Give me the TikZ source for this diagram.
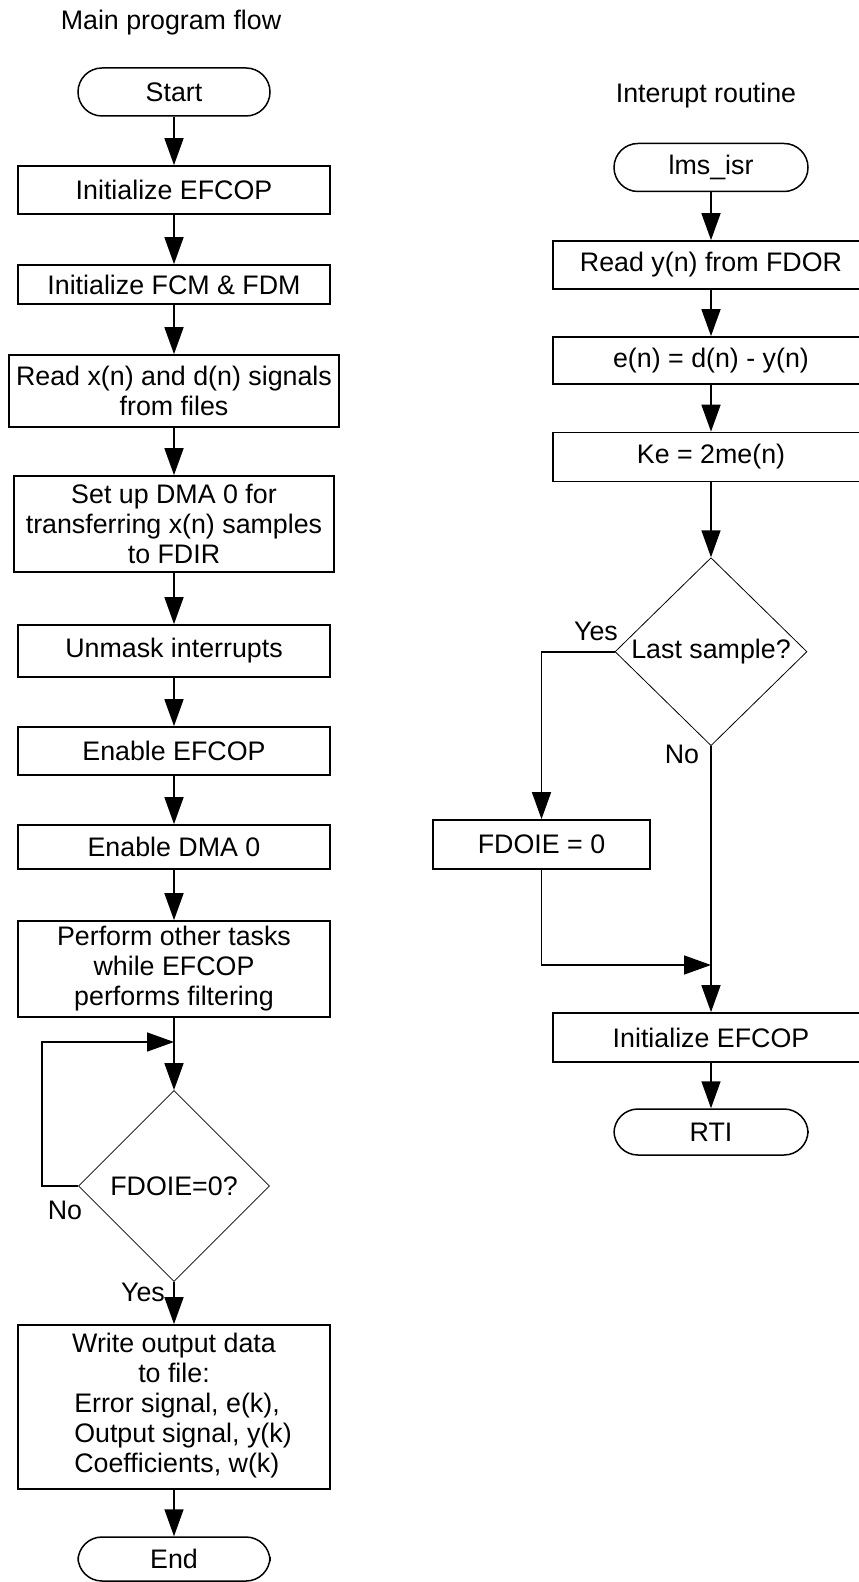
\documentclass[tikz,border=0pt]{standalone}
\usepackage{fontspec}
\setmainfont{Liberation Sans}
\usetikzlibrary{arrows.meta,shapes.geometric}

\begin{document}
\begin{tikzpicture}[x=0.5pt, y=-0.5pt,
		every node/.style={font=\fontsize{13.4}{15}\selectfont},
		procbox/.style={draw, line width=0.85pt, align=center, inner sep=0pt, minimum width=156pt, minimum height=24pt},
		termbox/.style={draw, line width=0.75pt, rounded corners=12pt, inner sep=0pt, minimum width=96pt, minimum height=24pt},
		decbox/.style={draw, diamond, aspect=1, line width=0.4pt, inner sep=0pt, minimum width=95.5pt, minimum height=95.5pt},
		flow/.style={line width=0.8pt, -{Triangle[length=13.5pt,width=9.5pt]}}]
			%%%%% START %%%%%
			
			\useasboundingbox (0, 0) rectangle (858, 1582);
			
			\node (title1) at (171, 22.5) {Main program flow};
			\node (title2) at (706, 96) {Interupt routine};
			
			% main program flow
			\node[termbox] (start) at (174, 92) {Start};
			\node[procbox] (init) at (174, 190) {Initialize EFCOP};
			\node[procbox, minimum height=19.5pt] (fcm) at (174, 284.5) {Initialize FCM \& FDM};
			\node[procbox, minimum width=165pt, minimum height=36pt] (readx) at (174, 391) {Read x(n) and d(n) signals\\from files};
			\node[procbox, minimum width=160pt, minimum height=48pt] (setdma) at (174, 524) {Set up DMA 0 for\\transferring x(n) samples\\to FDIR};
			\node[procbox, minimum height=26pt] (unmask) at (174, 651) {Unmask interrupts};
			\node[procbox] (enefcop) at (174, 751) {Enable EFCOP};
			\node[procbox, minimum height=22pt] (endma) at (174, 847) {Enable DMA 0};
			\node[procbox, minimum height=48pt] (perform) at (174, 969) {Perform other tasks\\while EFCOP\\performs filtering};
			\node[decbox] (fdoie) at (174, 1186) {FDOIE=0?};
			\node[procbox, minimum height=82pt] (write) at (174, 1407) {Write output data\\to file:\\\begin{tabular}[t]{@{\hspace{9pt}}l@{}}Error signal, e(k),\\Output signal, y(k)\\Coefficients, w(k)\end{tabular}};
			\node[termbox, minimum height=22pt] (stop) at (174, 1559) {End};
			
			\node (no1) at (65, 1210) {No};
			\node (yes1) at (143, 1292) {Yes};
			
			\coordinate (loopin) at (174, 1042);
			
			\draw[flow] (start) -- (init);
			\draw[flow] (init) -- (fcm);
			\draw[flow] (fcm) -- (readx);
			\draw[flow] (readx) -- (setdma);
			\draw[flow] (setdma) -- (unmask);
			\draw[flow] (unmask) -- (enefcop);
			\draw[flow] (enefcop) -- (endma);
			\draw[flow] (endma) -- (perform);
			\draw[flow] (perform) -- (fdoie);
			\draw[flow] (fdoie.west) -- ++(-36, 0) |- (loopin);
			\draw[flow] (fdoie) -- (write);
			\draw[flow] (write) -- (stop);
			
			% interrupt routine
			\node[termbox, minimum width=97pt] (isr) at (711, 167.5) {lms\_isr};
			\node[procbox, minimum width=158pt] (ready) at (711, 265) {Read y(n) from FDOR};
			\node[procbox, minimum width=158pt, minimum height=23.5pt] (err) at (711, 360.5) {e(n) = d(n) - y(n)};
			\node[procbox, minimum width=158pt, minimum height=24.5pt] (ke) at (711, 457) {Ke = 2me(n)};
			\node[decbox, minimum width=96pt, minimum height=94pt] (last) at (711, 651.7) {Last sample?};
			\node[procbox, minimum width=108.5pt, minimum height=24.5pt] (fdoiezero) at (541.5, 844.5) {FDOIE = 0};
			\node[procbox, minimum width=158pt, minimum height=24.5pt] (initr) at (711, 1037.5) {Initialize EFCOP};
			\node[termbox, minimum width=97pt, minimum height=23pt] (rti) at (711, 1132) {RTI};
			
			\node (yes2) at (596, 631.5) {Yes};
			\node (no2) at (682, 754) {No};
			
			\coordinate (merge) at (711, 965);
			
			\draw[flow] (isr) -- (ready);
			\draw[flow] (ready) -- (err);
			\draw[flow] (err) -- (ke);
			\draw[flow] (ke) -- (last);
			\draw[flow] (last.west) -| (fdoiezero.north);
			\draw[flow] (fdoiezero.south) |- (merge);
			\draw[flow] (last) -- (initr);
			\draw[flow] (initr) -- (rti);
			
			%%%%% END %%%%%
\end{tikzpicture}
\end{document}
